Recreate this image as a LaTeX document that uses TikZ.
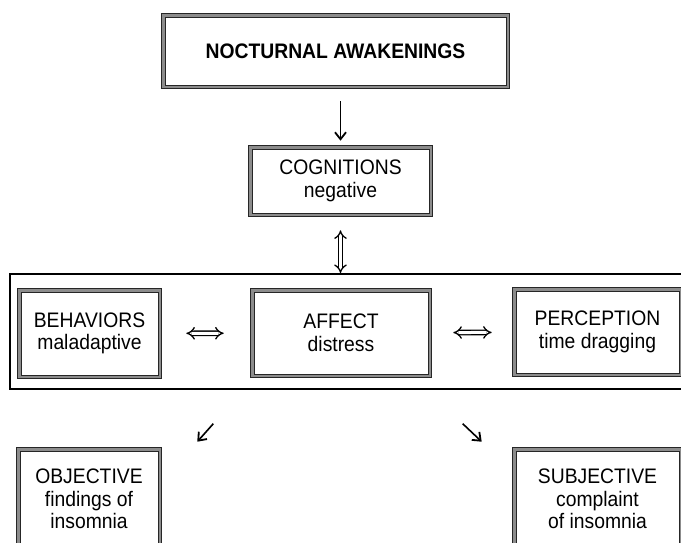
\documentclass[tikz,border=0pt]{standalone}
\usepackage{fontspec}
\setmainfont[FakeStretch=0.92]{Liberation Sans}
\usetikzlibrary{arrows.meta}
\usetikzlibrary{calc}

\begin{document}
\begin{tikzpicture}[x=1pt,y=-1pt,auto]%,1px = 1pt
        \tikzstyle{box}=[draw=black!85, line width=1pt, double=black!45, double distance=2.6pt, fill=white, align=center, inner sep=0pt, font=\fontsize{21}{22.5}\selectfont]
        \tikzstyle{frm}=[draw, line width=1.8pt, inner sep=0pt]
        \tikzstyle{arr}=[-{Straight Barb[length=7pt,width=11pt,line width=1.8pt]}, draw, line width=1.6pt]
        \tikzstyle{dbl}=[{Implies[scale=1.5]}-{Implies[scale=1.5]}, draw, double, double distance=3pt, line width=1.3pt]
        \useasboundingbox (0,0) rectangle (681,542);
        \node[box, minimum width=344.6pt, minimum height=71.6pt] (awake) at (335.5,51) {\bfseries NOCTURNAL AWAKENINGS};
        \node[box, minimum width=180.6pt, minimum height=67.6pt] (cogn) at (340.5,181) {COGNITIONS\\ negative};
        \node[frm, minimum width=680pt, minimum height=115pt] (frame) at (350,331.5) {};
        \node[box, minimum width=140.6pt, minimum height=86.6pt] (behav) at (89.5,333.5) {BEHAVIORS\\ maladaptive};
        \node[box, minimum width=177.6pt, minimum height=85.6pt] (affect) at (341,333) {AFFECT\\ distress};
        \node[box, minimum width=166.6pt, minimum height=85.6pt] (percep) at (597.5,332) {PERCEPTION\\ time dragging};
        \node[box, minimum width=141.6pt, minimum height=99.6pt] (object) at (89,499) {OBJECTIVE\\ findings of\\ insomnia};
        \node[box, minimum width=166.6pt, minimum height=99.6pt] (subject) at (597.5,499) {SUBJECTIVE\\ complaint\\ of insomnia};
        \path [arr, shorten <=14pt, shorten >=6pt] (cogn.north |- awake.south) -- (cogn.north);
        \path [dbl, shorten <=15pt] (cogn.south) -- (cogn.south |- frame.north);
        \path [dbl, shorten <=26pt, shorten >=28pt] (behav) -- (affect);
        \path [dbl, shorten <=23pt, shorten >=22pt] (affect) -- (percep);
        \path [arr] ($(object.north east)+(53,-25)$) -- ($(object.north east)+(37,-7)$);
        \path [arr] ($(subject.north west)+(-51,-25)$) -- ($(subject.north west)+(-32,-7)$);
      \end{tikzpicture}
\end{document}
